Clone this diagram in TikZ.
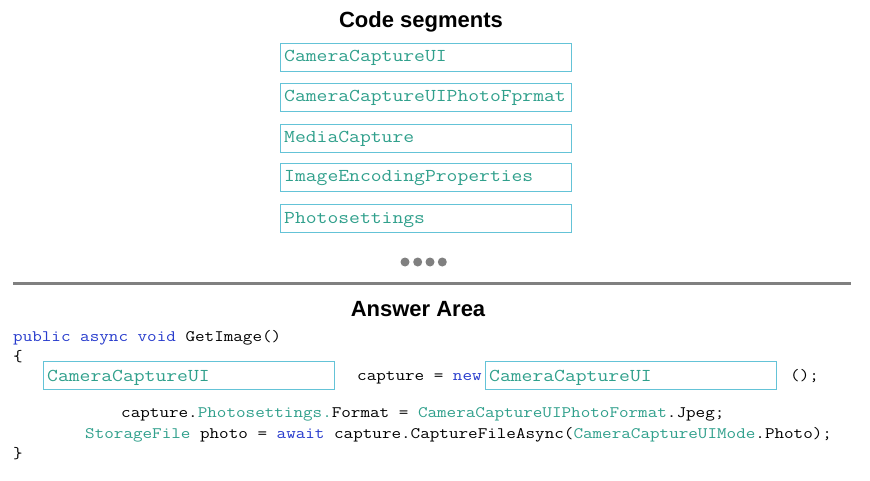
\documentclass[tikz,border=0pt]{standalone}
\usepackage{fontspec}
\setmainfont{Liberation Sans}
\newfontfamily\codefont[FakeStretch=1.162]{Latin Modern Mono}
\definecolor{tealtxt}{RGB}{48,160,140}
\definecolor{boxline}{RGB}{100,195,215}
\definecolor{kwblue}{RGB}{40,60,205}
\definecolor{rulegray}{RGB}{128,128,128}
\begin{document}
\begin{tikzpicture}[x=1pt,y=-1pt,
  title/.style={font=\fontsize{22}{26}\selectfont\bfseries, anchor=base, inner sep=0pt},
  segbox/.style={draw=boxline, line width=0.9pt, minimum width=291pt, minimum height=28pt, anchor=north west, inner sep=0pt},
  segtext/.style={font=\codefont\fontsize{18.1}{20}\selectfont, text=tealtxt, anchor=base west, inner sep=0pt},
  code/.style={font=\codefont\fontsize{16}{19}\selectfont, anchor=base west, inner sep=0pt},
  dot/.style={circle, fill=rulegray, minimum size=9pt, inner sep=0pt}
]
\useasboundingbox[fill=white] (0,0) rectangle (870,481);
\node[title] (t1) at (421,28) {Code segments};
% segment boxes
\node[segbox] (s1) at (280,43) {};
\node[segbox] (s2) at (280,83) {};
\node[segbox] (s3) at (280,124) {};
\node[segbox] (s4) at (280,163) {};
\node[segbox] (s5) at (280,204) {};
\node[segtext] (s1t) at (284,62) {CameraCaptureUI};
\node[segtext] (s2t) at (284,102) {CameraCaptureUIPhotoFprmat};
\node[segtext] (s3t) at (284,143) {MediaCapture};
\node[segtext] (s4t) at (284,182) {ImageEncodingProperties};
\node[segtext] (s5t) at (284,223) {Photosettings};
% dots
\node[dot] (d1) at (405,262) {};
\node[dot] (d2) at (417.7,262) {};
\node[dot] (d3) at (430,262) {};
\node[dot] (d4) at (442.3,262) {};
% rule
\coordinate (r1) at (13,283.5);
\coordinate (r2) at (851,283.5);
\draw[rulegray, line width=3pt] (r1) -- (r2);
\node[title] (t2) at (418,316) {Answer Area};
% code
\node[code] (c1) at (13,341) {\textcolor{kwblue}{public async void} GetImage()};
\node[code] (c2) at (13,361) {\{};
\node[segbox] (a1) at (43,361) {};
\node[segbox] (a2) at (485,361) {};
\node[segtext] (a1t) at (47,381) {CameraCaptureUI};
\node[segtext] (a2t) at (489,381) {CameraCaptureUI};
\node[code] (c3) at (357,380) {capture = \textcolor{kwblue}{new}};
\node[code] (c3b) at (790,380) {();};
\node[code] (c4) at (121,417) {capture.\textcolor{tealtxt}{Photosettings.}Format = \textcolor{tealtxt}{CameraCaptureUIPhotoFormat}.Jpeg;};
\node[code] (c5) at (85,438) {\textcolor{tealtxt}{StorageFile} photo = \textcolor{kwblue}{await} capture.CaptureFileAsync(\textcolor{tealtxt}{CameraCaptureUIMode}.Photo);};
\node[code] (c6) at (13,458) {\}};
\end{tikzpicture}
\end{document}
